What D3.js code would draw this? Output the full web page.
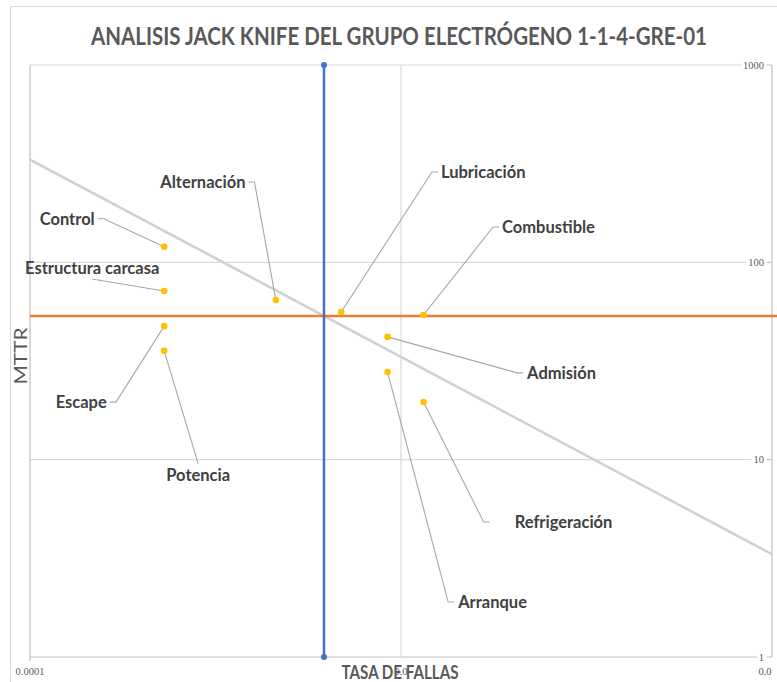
<!DOCTYPE html>
<html><head><meta charset="utf-8">
<script src="https://cdn.jsdelivr.net/npm/d3@7/dist/d3.min.js"></script>
<style>body{margin:0;background:#fff}svg{display:block}</style>
</head><body><svg id="c" width="777" height="682"></svg>
<script>
const categories = ["Control","Estructura carcasa","Escape","Potencia","Alternación","Lubricación","Combustible","Admisión","Arranque","Refrigeración"];
const tasaFallas = [0.00023,0.00023,0.00023,0.00023,0.00046,0.00069,0.00115,0.00092,0.00092,0.00115];
const mttr = [120,71.6,47.5,35.6,64.4,56,54.1,41.9,27.8,19.6];
const tasaPromedio = 0.00062;
const mttrPromedio = 53.5;
const yTicks = [1000,100,10,1];
const xTickValues = [0.0001,0.001,0.01];
const xTickLabels = ["0.0001","0.0","0.0"];
const title = "ANALISIS JACK KNIFE DEL GRUPO ELECTRÓGENO 1-1-4-GRE-01";
// label placement (pixel offsets of label centre from its point, leader side, extra gap)
const labelLayout = [
  {dx:-97,dy:-28,side:"right",gap:0},
  {dx:-72,dy:-23,side:"bottom",gap:0},
  {dx:-83,dy:76,side:"right",gap:0},
  {dx:34,dy:124,side:"top",gap:0},
  {dx:-73,dy:-118,side:"right",gap:0},
  {dx:142,dy:-140,side:"left",gap:0},
  {dx:125,dy:-88,side:"left",gap:0},
  {dx:174,dy:36,side:"left",gap:0},
  {dx:105,dy:230,side:"left",gap:0},
  {dx:140,dy:120,side:"left",gap:22}
];

const svg = d3.select("#c");
const L=30,R=772,T=65,B=657;
const x = d3.scaleLog().domain([1e-4,1e-2]).range([L,R]);
const y = d3.scaleLog().domain([1,1000]).range([B,T]);
const grid="#d9d9d9", axisC="#bfbfbf", txt="#595959";

// frame
svg.append("line").attr("x1",10).attr("x2",777).attr("y1",6.5).attr("y2",6.5).attr("stroke",grid);
svg.append("line").attr("x1",10.5).attr("x2",10.5).attr("y1",6).attr("y2",682).attr("stroke",grid);

// right axis labels + gridlines
const yl = svg.append("g");
yTicks.forEach(v=>{
  const t = yl.append("text").attr("x",R-8).attr("y",y(v)+3.5).attr("text-anchor","end")
    .attr("font-family","Liberation Serif").attr("font-size",10.5).attr("fill",txt).text(d3.format("d")(v));
  const bb = t.node().getBBox();
  svg.insert("line",":first-child").attr("x1",L).attr("x2",bb.x-2).attr("y1",y(v)).attr("y2",y(v))
    .attr("stroke",v===1?axisC:grid).attr("stroke-width",1.2);
  svg.append("line").attr("x1",R-5).attr("x2",R).attr("y1",y(v)).attr("y2",y(v)).attr("stroke",axisC);
});
svg.append("line").attr("x1",R).attr("x2",R).attr("y1",T).attr("y2",B).attr("stroke",axisC).attr("stroke-width",1.2);
// vertical gridline at middle decade
svg.append("line").attr("x1",x(0.001)).attr("x2",x(0.001)).attr("y1",T).attr("y2",B).attr("stroke",grid).attr("stroke-width",1.2);
// left axis
svg.append("line").attr("x1",L).attr("x2",L).attr("y1",T).attr("y2",B+4).attr("stroke",axisC).attr("stroke-width",1.2);

// x tick labels
xTickValues.forEach((v,i)=>{
  svg.append("text").attr("x",i===2?x(v)-7:x(v)).attr("y",675).attr("text-anchor","middle")
   .attr("font-family","Liberation Serif").attr("font-size",10.5).attr("fill",txt).text(xTickLabels[i]);
});

// limit curve: tasa * mttr = constant
const K = tasaPromedio*mttrPromedio;
const curve = [1e-4,1e-2].map(t=>[x(t),y(K/t)]);
svg.append("line").attr("x1",curve[0][0]).attr("y1",curve[0][1]).attr("x2",curve[1][0]).attr("y2",curve[1][1])
  .attr("stroke","#d0d0d0").attr("stroke-width",2.5);
// mean MTTR
svg.append("line").attr("x1",L).attr("x2",R+5).attr("y1",y(mttrPromedio)).attr("y2",y(mttrPromedio))
  .attr("stroke","#ED7D31").attr("stroke-width",2.5);
// mean rate
svg.append("line").attr("x1",x(tasaPromedio)).attr("x2",x(tasaPromedio)).attr("y1",T).attr("y2",B)
  .attr("stroke","#4472C4").attr("stroke-width",2.5);
[T,B].forEach(v=>svg.append("circle").attr("cx",x(tasaPromedio)).attr("cy",v).attr("r",3).attr("fill","#4472C4"));

// labels & leaders
const lg = svg.append("g"), pg = svg.append("g");
categories.forEach((c,i)=>{
  const px=x(tasaFallas[i]), py=y(mttr[i]), lo=labelLayout[i];
  const t = lg.append("text").attr("x",px+lo.dx).attr("y",py+lo.dy).attr("text-anchor","middle")
    .attr("dominant-baseline","central").attr("font-family","Lato").attr("font-weight","bold")
    .attr("font-size",16.5).attr("fill","#404040").text(c);
  const bb=t.node().getBBox();
  let pts;
  const cy=bb.y+bb.height/2, g=lo.gap;
  if(lo.side==="right") pts=[[bb.x+bb.width+3+g,cy],[bb.x+bb.width+9+g,cy],[px,py]];
  else if(lo.side==="left") pts=[[bb.x-3-g,cy],[bb.x-9-g,cy],[px,py]];
  else if(lo.side==="bottom") pts=[[bb.x+bb.width/2,bb.y+bb.height+1],[px,py]];
  else pts=[[bb.x+bb.width/2,bb.y-1],[px,py]];
  lg.insert("path",":first-child").attr("d",d3.line()(pts)).attr("fill","none").attr("stroke","#a6a6a6").attr("stroke-width",1.1);
  pg.append("circle").attr("cx",px).attr("cy",py).attr("r",3.3).attr("fill","#FFC000");
});

// titles
svg.append("text").attr("x",399).attr("y",45).attr("text-anchor","middle").attr("font-family","Lato")
  .attr("font-weight","bold").attr("font-size",25).attr("fill",txt).attr("textLength",616)
  .attr("lengthAdjust","spacingAndGlyphs").text(title);
svg.append("text").attr("x",400).attr("y",679).attr("text-anchor","middle").attr("font-family","Lato")
  .attr("font-weight","bold").attr("font-size",19).attr("fill",txt).attr("textLength",117)
  .attr("lengthAdjust","spacingAndGlyphs").text("TASA DE FALLAS");
svg.append("text").attr("transform","translate(27,356) rotate(-90)").attr("text-anchor","middle")
  .attr("font-family","Lato").attr("font-size",18).attr("fill",txt).attr("textLength",57)
  .attr("lengthAdjust","spacingAndGlyphs").text("MTTR");
</script></body></html>
